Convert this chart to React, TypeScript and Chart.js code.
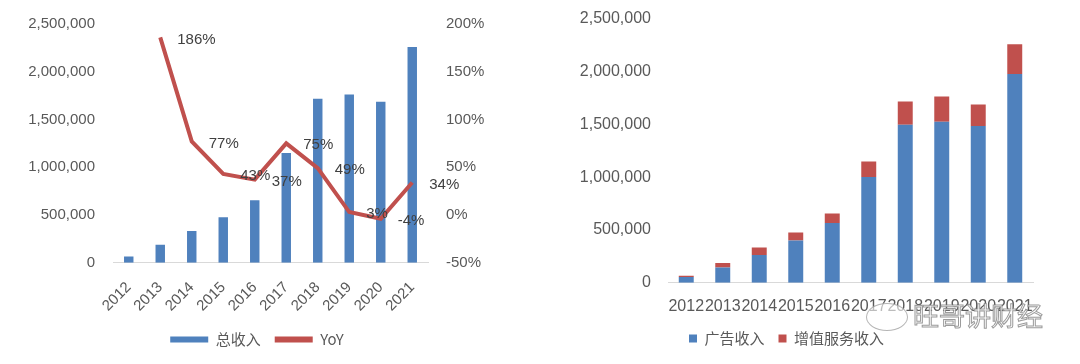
import React, { useEffect, useRef } from "react";
import { Chart, registerables } from "chart.js";

Chart.register(...registerables);

const years = ["2012", "2013", "2014", "2015", "2016", "2017", "2018", "2019", "2020", "2021"];
const totalRevenue = [66000, 188000, 333000, 476000, 655000, 1148000, 1716000, 1762000, 1686000, 2258000];
const yoyPct = [null, 186, 77, 43, 37, 75, 49, 3, -4, 34];
const adRevenue = [54000, 145000, 264000, 400000, 567000, 1000000, 1495000, 1525000, 1484000, 1975000];
const vasRevenue = [12000, 43000, 69000, 76000, 88000, 148000, 221000, 237000, 202000, 283000];

const BLUE = "#4F81BD";
const RED = "#C0504D";
const TICK = "#595959";
const FONT = "'Liberation Sans', Arial, sans-serif";
const CJK = "'Noto Sans CJK SC', 'Liberation Sans', sans-serif";

const fmtNum = (v: number) => Number(v).toLocaleString("en-US");

const lineLabels = {
  id: "lineLabels",
  afterDatasetsDraw(chart: any) {
    const ctx = chart.ctx;
    chart.data.datasets.forEach((ds: any, i: number) => {
      if (ds.type !== "line") return;
      const meta = chart.getDatasetMeta(i);
      ctx.save();
      ctx.font = `15px ${FONT}`;
      ctx.fillStyle = "#404040";
      ctx.textAlign = "left";
      ctx.textBaseline = "middle";
      meta.data.forEach((pt: any, j: number) => {
        const v = ds.data[j];
        if (v === null || v === undefined) return;
        ctx.fillText(`${v}%`, pt.x + 17, pt.y + 2);
      });
      ctx.restore();
    });
  },
};

function LeftChart() {
  const ref = useRef<HTMLCanvasElement>(null);
  useEffect(() => {
    const chart = new Chart(ref.current!, {
      type: "bar",
      data: {
        labels: years,
        datasets: [
          {
            type: "bar",
            label: "总收入",
            data: totalRevenue,
            backgroundColor: BLUE,
            yAxisID: "y",
            order: 1,
            categoryPercentage: 1,
            barPercentage: 0.3,
          } as any,
          {
            type: "line",
            label: "YoY",
            data: yoyPct,
            borderColor: RED,
            backgroundColor: RED,
            borderWidth: 4,
            pointRadius: 0,
            tension: 0,
            yAxisID: "y1",
            order: 0,
          } as any,
        ],
      },
      options: {
        animation: false,
        responsive: false,
        maintainAspectRatio: false,
        layout: { padding: { top: 24, left: 0, right: 26, bottom: 7 } },
        plugins: {
          tooltip: { enabled: false },
          legend: {
            position: "bottom",
            labels: {
              boxWidth: 38,
              boxHeight: 6,
              padding: 14,
              color: "#595959",
              font: { size: 15, family: CJK },
              sort: (a: any, b: any) => a.datasetIndex - b.datasetIndex,
              generateLabels: (c: any) =>
                c.data.datasets.map((ds: any, i: number) => ({
                  text: ds.label,
                  fillStyle: ds.type === "line" ? RED : BLUE,
                  strokeStyle: ds.type === "line" ? RED : BLUE,
                  lineWidth: 0,
                  fontColor: "#595959",
                  datasetIndex: i,
                  hidden: false,
                })),
            },
          },
        },
        scales: {
          x: {
            grid: { display: false, drawTicks: false },
            border: { display: true, color: "#D9D9D9", width: 1 },
            ticks: {
              color: TICK,
              font: { size: 15, family: FONT },
              minRotation: 45,
              maxRotation: 45,
              padding: 16,
            },
            afterFit: (s: any) => {
              s.height = s.height - 13;
            },
          },
          y: {
            position: "left",
            min: 0,
            max: 2500000,
            grid: { display: false, drawTicks: true, tickLength: 8 },
            border: { display: false },
            ticks: {
              stepSize: 500000,
              color: TICK,
              font: { size: 15, family: FONT },
              padding: 10,
              callback: (v: any) => fmtNum(v),
            },
            afterFit: (s: any) => {
              s.width = 113;
            },
          },
          y1: {
            position: "right",
            min: -50,
            max: 200,
            grid: { display: false, drawTicks: true, tickLength: 8 },
            border: { display: false },
            ticks: {
              stepSize: 50,
              color: TICK,
              font: { size: 15, family: FONT },
              padding: 10,
              callback: (v: any) => `${v}%`,
            },
            afterFit: (s: any) => {
              s.width = 540 - 26 - 428;
            },
          },
        },
      } as any,
      plugins: [lineLabels],
    });
    return () => chart.destroy();
  }, []);
  return <canvas ref={ref} width={540} height={364} style={{ position: "absolute", left: 0, top: 0 }} />;
}

function RightChart() {
  const ref = useRef<HTMLCanvasElement>(null);
  useEffect(() => {
    const chart = new Chart(ref.current!, {
      type: "bar",
      data: {
        labels: years,
        datasets: [
          {
            label: "广告收入",
            data: adRevenue,
            backgroundColor: BLUE,
            categoryPercentage: 1,
            barPercentage: 0.41,
          },
          {
            label: "增值服务收入",
            data: vasRevenue,
            backgroundColor: RED,
            categoryPercentage: 1,
            barPercentage: 0.41,
          },
        ],
      },
      options: {
        animation: false,
        responsive: false,
        maintainAspectRatio: false,
        layout: { padding: { top: 18, left: 0, right: 47, bottom: 8 } },
        plugins: {
          tooltip: { enabled: false },
          legend: {
            position: "bottom",
            labels: {
              boxWidth: 8,
              boxHeight: 8,
              padding: 14,
              color: "#595959",
              font: { size: 15, family: CJK },
            },
          },
        },
        scales: {
          x: {
            stacked: true,
            grid: { display: false, drawTicks: false },
            border: { display: true, color: "#D9D9D9", width: 1 },
            ticks: {
              color: TICK,
              font: { size: 16, family: FONT },
              maxRotation: 0,
              minRotation: 0,
              autoSkip: false,
              padding: 14,
            },
            afterFit: (s: any) => {
              s.height = s.height - 13;
            },
          },
          y: {
            stacked: true,
            min: 0,
            max: 2500000,
            grid: { display: false, drawTicks: true, tickLength: 8 },
            border: { display: false },
            ticks: {
              stepSize: 500000,
              color: TICK,
              font: { size: 16, family: FONT },
              padding: 9,
              callback: (v: any) => fmtNum(v),
            },
            afterFit: (s: any) => {
              s.width = 128;
            },
          },
        },
      } as any,
    });
    return () => chart.destroy();
  }, []);
  return <canvas ref={ref} width={540} height={364} style={{ position: "absolute", left: 540, top: 0 }} />;
}

export default function App() {
  return (
    <div style={{ position: "fixed", left: 0, top: 0, width: 1080, height: 364, background: "#fff", overflow: "hidden" }}>
      <LeftChart />
      <RightChart />
      <div
        style={{
          position: "absolute",
          left: 866,
          top: 303,
          width: 40,
          height: 26,
          borderRadius: "50%",
          border: "1px solid rgba(150,150,150,0.7)",
          background: "rgba(255,255,255,0.6)",
        }}
      />
      <div
        style={{
          position: "absolute",
          left: 913,
          top: 299,
          fontFamily: CJK,
          fontSize: 26,
          lineHeight: "32px",
          color: "rgba(255,255,255,0.85)",
          WebkitTextStroke: "1px rgba(130,130,130,0.8)",
          letterSpacing: 0,
        }}
      >
        旺哥讲财经
      </div>
    </div>
  );
}
